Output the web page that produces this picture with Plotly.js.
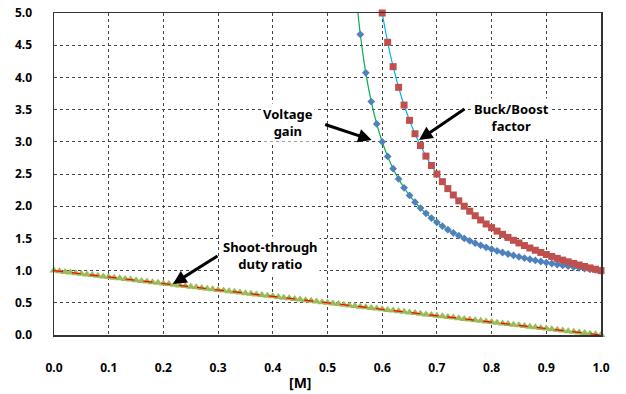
<!DOCTYPE html>
<html>
<head>
<meta charset="utf-8">
<script src="https://cdn.plot.ly/plotly-3.0.1.min.js"></script>
<style>
html,body{margin:0;padding:0;background:#fff;}
#chart{width:626px;height:394px;}
</style>
</head>
<body>
<div id="chart"></div>
<script>
// Voltage gain (blue diamonds, green line)
var gainM = [0.55,0.56,0.57,0.58,0.59,0.60,0.61,0.62,0.63,0.64,0.65,0.66,0.67,0.68,0.69,0.70,0.71,0.72,0.73,0.74,0.75,0.76,0.77,0.78,0.79,0.80,0.81,0.82,0.83,0.84,0.85,0.86,0.87,0.88,0.89,0.90,0.91,0.92,0.93,0.94,0.95,0.96,0.97,0.98,0.99,1.00];
var gainVal = [5.5,4.667,4.071,3.625,3.278,3.0,2.773,2.583,2.423,2.286,2.167,2.063,1.971,1.889,1.816,1.75,1.690,1.636,1.587,1.542,1.5,1.462,1.426,1.393,1.362,1.333,1.306,1.281,1.258,1.235,1.214,1.194,1.176,1.158,1.141,1.125,1.110,1.095,1.081,1.068,1.056,1.043,1.032,1.021,1.010,1.0];

// Buck/Boost factor (red squares, cyan line)
var boostM = [0.60,0.61,0.62,0.63,0.64,0.65,0.66,0.67,0.68,0.69,0.70,0.71,0.72,0.73,0.74,0.75,0.76,0.77,0.78,0.79,0.80,0.81,0.82,0.83,0.84,0.85,0.86,0.87,0.88,0.89,0.90,0.91,0.92,0.93,0.94,0.95,0.96,0.97,0.98,0.99,1.00];
var boostVal = [5.0,4.545,4.167,3.846,3.571,3.333,3.125,2.941,2.778,2.632,2.5,2.381,2.273,2.174,2.083,2.0,1.923,1.852,1.786,1.724,1.667,1.613,1.563,1.515,1.471,1.429,1.389,1.351,1.316,1.282,1.25,1.220,1.190,1.163,1.136,1.111,1.087,1.064,1.042,1.020,1.0];

// Shoot-through duty ratio (green triangles, red dashed line)
var dutyM = [0.00,0.01,0.02,0.03,0.04,0.05,0.06,0.07,0.08,0.09,0.10,0.11,0.12,0.13,0.14,0.15,0.16,0.17,0.18,0.19,0.20,0.21,0.22,0.23,0.24,0.25,0.26,0.27,0.28,0.29,0.30,0.31,0.32,0.33,0.34,0.35,0.36,0.37,0.38,0.39,0.40,0.41,0.42,0.43,0.44,0.45,0.46,0.47,0.48,0.49,0.50,0.51,0.52,0.53,0.54,0.55,0.56,0.57,0.58,0.59,0.60,0.61,0.62,0.63,0.64,0.65,0.66,0.67,0.68,0.69,0.70,0.71,0.72,0.73,0.74,0.75,0.76,0.77,0.78,0.79,0.80,0.81,0.82,0.83,0.84,0.85,0.86,0.87,0.88,0.89,0.90,0.91,0.92,0.93,0.94,0.95,0.96,0.97,0.98,0.99,1.00];
var dutyVal = [1.00,0.99,0.98,0.97,0.96,0.95,0.94,0.93,0.92,0.91,0.90,0.89,0.88,0.87,0.86,0.85,0.84,0.83,0.82,0.81,0.80,0.79,0.78,0.77,0.76,0.75,0.74,0.73,0.72,0.71,0.70,0.69,0.68,0.67,0.66,0.65,0.64,0.63,0.62,0.61,0.60,0.59,0.58,0.57,0.56,0.55,0.54,0.53,0.52,0.51,0.50,0.49,0.48,0.47,0.46,0.45,0.44,0.43,0.42,0.41,0.40,0.39,0.38,0.37,0.36,0.35,0.34,0.33,0.32,0.31,0.30,0.29,0.28,0.27,0.26,0.25,0.24,0.23,0.22,0.21,0.20,0.19,0.18,0.17,0.16,0.15,0.14,0.13,0.12,0.11,0.10,0.09,0.08,0.07,0.06,0.05,0.04,0.03,0.02,0.01,0.00];

var xTicks = [0.0,0.1,0.2,0.3,0.4,0.5,0.6,0.7,0.8,0.9,1.0];
var xTickText = ['0.0','0.1','0.2','0.3','0.4','0.5','0.6','0.7','0.8','0.9','1.0'];
var yTicks = [0.0,0.5,1.0,1.5,2.0,2.5,3.0,3.5,4.0,4.5,5.0];
var yTickText = ['0.0','0.5','1.0','1.5','2.0','2.5','3.0','3.5','4.0','4.5','5.0'];

var labelGain = 'Voltage<br>gain';
var labelBoost = 'Buck/Boost<br>factor';
var labelDuty = 'Shoot-through<br>duty ratio';
var labelX = '[M]';

var FONT = 'Noto Sans, DejaVu Sans, sans-serif';

var traces = [
  {x: dutyM, y: dutyVal, mode: 'markers', type: 'scatter',
   marker: {symbol: 'triangle-up', size: 8, color: '#9BBB59'}, cliponaxis: false},
  {x: dutyM, y: dutyVal, mode: 'lines', type: 'scatter',
   line: {color: '#FF0000', width: 1.2, dash: 'dash'}},
  {x: gainM, y: gainVal, mode: 'lines', type: 'scatter',
   line: {color: '#00B050', width: 1.2, shape: 'spline'}},
  {x: gainM, y: gainVal, mode: 'markers', type: 'scatter',
   marker: {symbol: 'diamond', size: 6, color: '#4F81BD'}},
  {x: boostM, y: boostVal, mode: 'lines+markers', type: 'scatter',
   line: {color: '#00B0F0', width: 1.2, shape: 'spline'},
   marker: {symbol: 'square', size: 7, color: '#C0504D'}, cliponaxis: false}
];

var annFont = {family: FONT, size: 13, color: '#000', weight: 'bold'};

var layout = {
  width: 626, height: 394,
  margin: {l: 54, r: 25, t: 13, b: 59, pad: 0},
  paper_bgcolor: '#fff', plot_bgcolor: '#fff',
  showlegend: false,
  font: {family: FONT, size: 12, color: '#000'},
  xaxis: {
    range: [0, 1], tickvals: xTicks, ticktext: xTickText,
    showgrid: true, gridcolor: '#444', griddash: 'dot', gridwidth: 1,
    zeroline: false, showline: true, linecolor: '#333', linewidth: 1.5, mirror: true,
    ticks: '', ticklabelstandoff: 21,
    tickfont: {family: FONT, size: 12, color: '#000', weight: 'bold'}
  },
  yaxis: {
    range: [0, 5], tickvals: yTicks, ticktext: yTickText,
    showgrid: true, gridcolor: '#444', griddash: 'dot', gridwidth: 1,
    zeroline: false, showline: true, linecolor: '#333', linewidth: 1.5, mirror: true,
    ticks: '', ticklabelstandoff: 18,
    tickfont: {family: FONT, size: 12, color: '#000', weight: 'bold'}
  },
  annotations: [
    {x: 0.4269, y: 3.307, text: labelGain, showarrow: false, font: annFont,
     bgcolor: '#fff', borderpad: 1, xanchor: 'center', yanchor: 'middle'},
    {x: 0.8355, y: 3.377, text: labelBoost, showarrow: false, font: annFont,
     bgcolor: '#fff', borderpad: 1, xanchor: 'center', yanchor: 'middle'},
    {x: 0.3967, y: 1.237, text: labelDuty, showarrow: false, font: annFont,
     bgcolor: '#fff', borderpad: 1, xanchor: 'center', yanchor: 'middle'},
    {x: 0.5808, y: 3.028, text: '', showarrow: true, ax: -48, ay: -16,
     arrowcolor: '#000', arrowwidth: 3, arrowhead: 2, arrowsize: 0.9, standoff: 0},
    {x: 0.6673, y: 3.028, text: '', showarrow: true, ax: 47, ay: -32,
     arrowcolor: '#000', arrowwidth: 3, arrowhead: 2, arrowsize: 0.9, standoff: 0},
    {x: 0.2175, y: 0.792, text: '', showarrow: true, ax: 46, ay: -29,
     arrowcolor: '#000', arrowwidth: 3, arrowhead: 2, arrowsize: 0.9, standoff: 0},
    {x: 0.45, y: -0.149, xref: 'x', yref: 'paper', text: labelX, showarrow: false,
     font: {family: FONT, size: 14, color: '#000', weight: 'bold'},
     xanchor: 'center', yanchor: 'middle'}
  ]
};

Plotly.newPlot('chart', traces, layout, {displayModeBar: false, staticPlot: true});
</script>
</body>
</html>
